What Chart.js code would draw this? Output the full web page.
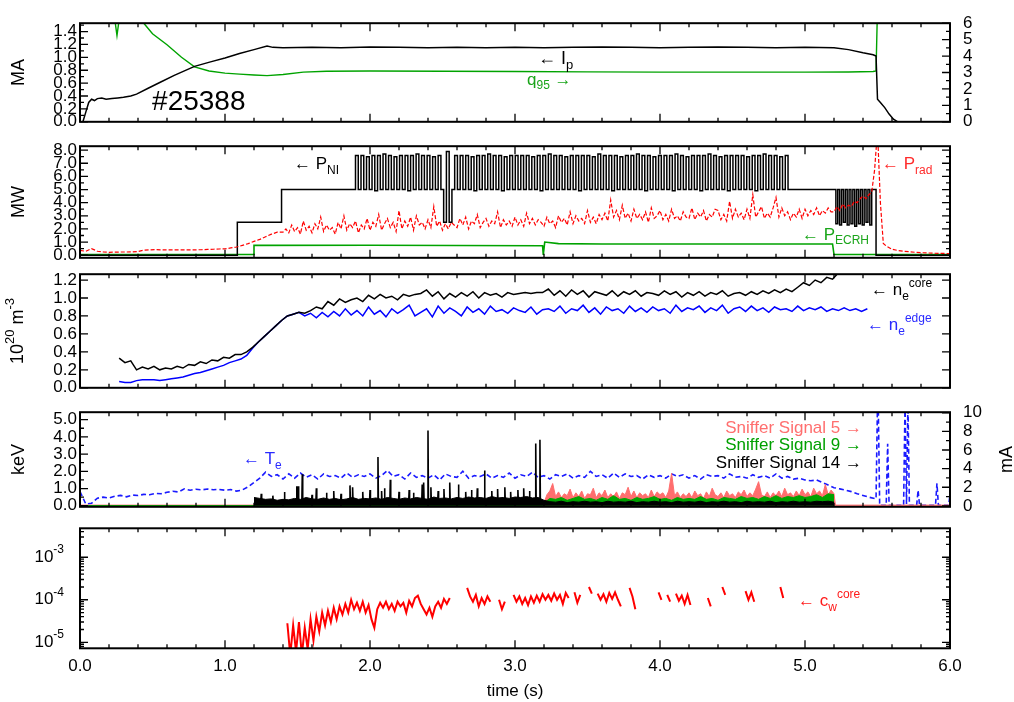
<!DOCTYPE html>
<html>
<head>
<meta charset="utf-8">
<title>#25388</title>
<script src="https://cdn.jsdelivr.net/npm/chart.js@4.4.0/dist/chart.umd.min.js"></script>
<style>
  body { margin: 0; background: #fff; }
  #wrap { position: relative; width: 1014px; height: 702px; }
  #wrap canvas { position: absolute; left: 0; }
</style>
</head>
<body>
<div id="wrap">
  <canvas id="pIp" width="1014" height="145" style="top:0px"></canvas>
  <canvas id="pPow" width="1014" height="138" style="top:133px"></canvas>
  <canvas id="pNe" width="1014" height="140" style="top:261px"></canvas>
  <canvas id="pTe" width="1014" height="141" style="top:389px"></canvas>
  <canvas id="pW" width="1014" height="184" style="top:518px"></canvas>
</div>
<script>
// ---- data (time in s) ----
const timeTicks = [0, 1, 2, 3, 4, 5, 6];

// panel 1: plasma current (MA) and q95
const ipTicks = [0, 0.2, 0.4, 0.6, 0.8, 1.0, 1.2, 1.4];
const q95Ticks = [0, 1, 2, 3, 4, 5, 6];
const ipT = [0.02,0.04,0.06,0.08,0.10,0.12,0.15,0.18,0.22,0.26,0.30,0.35,0.39,0.47,0.55,0.65,0.79,0.90,1.00,1.10,
  1.20,1.29,1.33,1.40,1.6,1.8,2.0,2.2,2.4,2.6,2.8,3.0,3.2,3.4,3.6,3.8,4.0,4.2,4.4,4.6,
  4.8,5.0,5.2,5.3,5.4,5.47,5.49,5.50,5.52,5.55,5.58,5.61,5.64];
const ipV = [0,0.15,0.30,0.35,0.33,0.36,0.37,0.35,0.36,0.37,0.38,0.40,0.43,0.52,0.61,0.72,0.86,0.93,0.99,1.06,
  1.12,1.175,1.155,1.15,1.155,1.15,1.16,1.155,1.15,1.155,1.15,1.155,1.15,1.155,1.16,1.155,1.15,1.155,1.16,1.155,
  1.15,1.155,1.15,1.12,1.07,1.04,1.02,0.35,0.30,0.22,0.12,0.04,0.0];
const q95T = [0.235,0.245,0.255,0.265,0.275,0.44,0.50,0.60,0.70,0.79,0.89,1.00,1.10,1.20,1.29,1.40,1.54,1.70,2.0,2.5,
  3.0,3.5,4.0,4.5,5.0,5.3,5.47,5.49,5.50];
const q95V = [7.0,5.9,5.25,5.9,7.0,6.0,5.36,4.69,3.93,3.34,3.09,2.96,2.90,2.85,2.81,2.88,3.02,3.08,3.09,3.08,
  3.06,3.04,3.02,3.02,3.02,3.03,3.06,3.1,7.0];

// panel 2: heating and radiated power (MW)
const powTicks = [0, 1, 2, 3, 4, 5, 6, 7, 8];
const pniStepT = [0, 1.085, 1.39];
const pniStepV = [0, 2.5, 5.0];
const pniModT0 = 1.90, pniModDt = 0.019;
const pniModV = [
  7.6,5.0,7.6,5.0,7.5,5.0,7.6,4.9,7.6,5.0,7.7,5.0,7.6,5.0,7.5,5.0,7.6,5.0,7.6,4.9,
  7.6,5.0,7.7,5.0,7.6,5.0,7.6,5.0,7.5,5.0,7.6,5.0,2.5,7.9,2.5,5.0,7.6,5.0,7.6,5.0,
  7.6,5.0,7.5,4.9,7.6,5.0,7.6,5.0,7.7,5.0,7.6,5.0,7.6,4.9,7.5,5.0,7.6,5.0,7.6,5.0,
  7.6,5.0,7.6,5.0,7.5,5.0,7.6,4.9,7.6,5.0,7.7,5.0,7.6,5.0,7.6,5.0,7.5,5.0,7.6,5.0,
  7.6,4.9,7.6,5.0,7.6,5.0,7.5,5.0,7.7,5.0,7.6,5.0,7.6,4.9,7.6,5.0,7.5,5.0,7.6,5.0,
  7.6,5.0,7.7,5.0,7.6,4.9,7.6,5.0,7.5,5.0,7.6,5.0,7.6,5.0,7.6,4.9,7.7,5.0,7.6,5.0,
  7.5,5.0,7.6,5.0,7.6,4.9,7.6,5.0,7.7,5.0,7.6,5.0,7.5,5.0,7.6,4.9,7.6,5.0,7.6,5.0,
  7.6,5.0,7.5,5.0,7.6,4.9,7.6,5.0,7.7,5.0,7.6,5.0,7.6,5.0,7.5,5.0,7.6,5.0];
const pniFlatT = [4.89];
const pniFlatV = [5.0];
const pniLateT0 = 5.20, pniLateDt = 0.013;
const pniLateV = [5.0,2.4,5.0,2.3,5.0,2.5,5.0,2.3,5.0,2.4,5.0,2.2,5.0,2.4,5.0,2.3,5.0,2.5,5.0,2.3];
const pniOffT = [5.46, 5.49, 6.0];
const pniOffV = [5.0, 0, 0];
const pradEarlyT0 = 0, pradEarlyDt = 0.04;
const pradEarlyV = [
  0.36,0.30,0.50,0.30,0.25,0.22,0.23,0.24,0.24,0.25,0.28,0.38,0.40,0.42,0.41,0.40,0.40,0.41,0.40,0.40,0.41,0.42,0.44,0.45,0.47,
  0.48,0.55,0.62,0.75,0.88,1.05,1.20,1.40,1.60,1.75];
const pradMidT0 = 1.40, pradMidDt = 0.02;
const pradMidV = [
  1.75,2.0,1.7,2.3,1.8,2.1,1.6,2.6,1.9,2.2,
  1.7,2.4,2.0,2.9,1.8,2.3,1.9,2.1,1.6,2.5,
  2.0,3.0,1.9,2.4,2.1,2.6,1.7,2.3,2.0,2.8,
  1.9,2.5,2.2,3.1,1.9,2.4,2.8,2.1,2.5,1.8,
  3.4,2.0,2.6,2.2,2.9,1.9,3.0,2.3,2.5,2.0,
  2.7,2.1,3.7,2.2,2.6,1.9,2.4,2.0,2.5,2.3,
  2.1,2.8,2.3,2.9,2.0,2.6,2.4,3.1,2.1,2.5,
  2.8,2.2,2.6,2.4,3.3,2.1,2.7,2.3,2.6,2.2,
  2.9,2.3,2.7,2.2,3.2,2.4,2.8,2.3,2.7,2.5,
  2.2,2.9,2.4,2.6,2.1,3.0,2.5,2.8,2.3,3.3,
  2.4,3.0,2.6,2.8,2.4,3.4,2.5,2.9,2.4,3.1,
  2.7,3.2,2.6,4.2,2.9,3.4,2.7,3.8,2.8,3.2,
  2.6,3.5,2.8,3.1,2.7,3.3,2.5,3.6,2.8,3.0,
  3.4,2.7,3.1,2.6,3.5,2.8,3.0,2.6,3.3,2.9,
  2.8,3.6,2.7,3.2,2.9,3.4,2.6,3.1,2.9,3.5,
  3.4,2.7,3.1,2.6,4.1,2.8,3.5,2.9,3.2,2.7,
  3.5,2.8,4.6,2.9,3.3,3.7,2.8,3.2,2.9,3.6,
  4.4,2.9,3.6,3.0,3.3,2.7,3.2,2.9,3.5,2.8,
  3.5,3.0,3.4,3.1,3.6,3.0,3.4,3.2,3.6,3.3,
  3.3,3.7,3.4,3.9,3.6,3.8,3.7,4.1,4.0,4.3,
  4.5,4.3,4.6,4.8];
const pradLateT = [5.48,5.50,5.52,5.54,5.56,5.60,5.64,5.68,5.72,5.76,5.80,5.84,5.88,5.92,5.96,6.0];
const pradLateV = [6.5,9.5,4.0,0.9,0.7,0.45,0.36,0.30,0.26,0.22,0.19,0.17,0.15,0.14,0.13,0.12];
const ecrhT = [0, 1.195, 1.20, 2.0, 3.19, 3.195, 3.205, 3.3, 3.6, 5.19, 5.20, 6.0];
const ecrhV = [0.05, 0.05, 0.75, 0.76, 0.72, 0.02, 1.0, 0.88, 0.85, 0.85, 0.05, 0.05];

// panel 3: electron density (1e20 m^-3)
const neTicks = [0, 0.2, 0.4, 0.6, 0.8, 1.0, 1.2];
const neT0 = 0.27, neDt = 0.04;
const neCoreV = [
  0.33,0.28,0.30,0.20,0.23,0.21,0.24,0.20,0.22,0.21,0.24,0.22,0.26,0.25,0.29,0.27,0.31,0.30,0.34,0.33,0.37,0.37,0.40,0.45,0.51,
  0.57,0.63,0.69,0.75,0.80,0.82,0.84,0.83,0.86,0.90,0.88,0.96,0.92,0.99,0.95,0.98,1.00,0.96,1.03,0.99,1.04,1.00,1.02,0.98,1.04,
  1.02,1.04,1.05,1.09,1.02,1.07,0.99,1.05,1.01,1.06,1.02,1.07,1.00,1.06,1.03,1.05,1.01,1.06,1.04,1.05,1.06,1.05,1.06,1.06,1.10,
  1.03,1.08,1.02,1.09,1.04,1.08,1.01,1.07,1.05,1.03,1.08,1.02,1.07,1.04,1.08,1.02,1.06,1.05,1.03,1.08,1.04,1.07,1.01,1.06,1.03,
  1.07,1.02,1.06,1.04,1.08,1.02,1.05,1.06,1.03,1.07,1.04,1.08,1.05,1.09,1.06,1.10,1.07,1.12,1.17,1.14,1.20,1.17,1.23,1.21,1.28];
const neEdgeV = [
  0.07,0.06,0.06,0.08,0.09,0.09,0.09,0.08,0.09,0.10,0.11,0.12,0.14,0.16,0.17,0.19,0.21,0.23,0.25,0.28,0.30,0.32,0.36,0.44,0.51,
  0.57,0.63,0.69,0.75,0.80,0.82,0.84,0.80,0.83,0.78,0.84,0.79,0.85,0.80,0.88,0.81,0.86,0.80,0.90,0.82,0.86,0.79,0.88,0.83,0.87,
  0.92,0.80,0.84,0.88,0.79,0.91,0.83,0.89,0.85,0.80,0.90,0.84,0.88,0.82,0.91,0.85,0.87,0.83,0.89,0.86,0.84,0.90,0.82,0.87,0.88,
  0.85,0.91,0.83,0.88,0.86,0.92,0.84,0.89,0.82,0.90,0.86,0.88,0.83,0.91,0.85,0.89,0.84,0.90,0.86,0.88,0.83,0.92,0.85,0.89,0.87,
  0.91,0.84,0.89,0.86,0.92,0.83,0.88,0.90,0.85,0.91,0.86,0.89,0.84,0.90,0.87,0.88,0.85,0.91,0.86,0.89,0.87,0.90,0.85,0.88,0.86,
  0.89,0.86,0.88,0.85,0.88];

// panel 4: Te (keV) and sniffer probe signals (mA)
const teTicks = [0, 1, 2, 3, 4, 5];
const mATicks = [0, 2, 4, 6, 8, 10];
const teT0 = 0, teDt = 0.04;
const teV = [
  0.83,0.10,0.15,0.44,0.50,0.45,0.55,0.60,0.52,0.62,0.60,0.66,0.64,0.72,0.70,0.78,0.84,0.80,0.98,0.90,0.96,0.92,0.97,0.93,0.95,
  0.90,0.94,0.85,0.92,1.10,1.35,1.60,1.95,1.70,1.80,1.55,1.85,1.60,1.90,1.65,1.80,1.55,1.85,1.70,1.75,1.60,1.90,1.65,1.80,1.70,
  1.85,1.60,1.75,2.05,1.70,1.80,1.55,1.90,1.65,1.75,1.60,1.80,1.50,1.85,1.70,1.65,2.00,1.60,1.75,1.70,1.85,1.60,1.75,1.65,1.90,
  1.60,1.80,1.70,1.95,1.65,1.75,1.55,1.80,1.70,1.85,1.60,1.75,1.65,2.00,1.70,1.80,1.60,1.90,1.65,1.85,1.70,1.75,1.55,1.80,1.65,
  1.75,1.60,1.85,1.70,1.80,1.60,1.75,1.55,1.80,1.70,1.75,1.60,1.85,1.65,1.70,1.60,1.80,1.65,1.75,1.60,1.85,1.60,1.70,1.55,1.60,
  1.50,1.45,1.50,1.35,1.20,1.05,0.98,0.90,0.82,0.70,0.60,0.50,0.42];
const teTailT = [5.49,5.50,5.505,5.515,5.56,5.57,5.58,5.68,5.69,5.70,5.71,5.72,5.77,5.78,5.79,5.90,5.91,5.92,5.99,6.0];
const teTailV = [0.40,6.0,6.0,0.02,0.02,3.6,0.02,0.02,6.0,0.1,6.0,0.02,0.02,0.9,0.02,0.02,1.3,0.02,0.02,0.6];
const sn5T0 = 3.20, sn5Dt = 0.02;
const sn5V = [
  0.3,1.2,1.6,2.4,1.0,1.5,0.9,1.3,1.1,1.8,
  0.9,1.4,1.0,1.6,0.8,1.3,1.2,1.9,0.9,1.4,
  1.1,1.7,0.9,1.3,1.0,1.5,0.8,1.4,1.2,2.0,
  1.0,1.6,0.9,1.4,1.1,1.3,0.9,1.7,1.0,1.5,
  1.2,1.4,0.9,1.6,3.5,1.1,1.5,0.9,1.3,1.0,
  1.4,0.9,1.6,1.1,1.3,0.8,1.5,1.0,1.9,1.2,
  1.0,1.4,0.9,1.6,1.1,1.3,0.9,1.5,1.2,1.7,
  1.0,1.4,1.1,1.8,2.6,1.2,1.0,1.5,0.9,1.4,
  1.1,1.6,1.0,1.9,1.2,1.4,1.0,1.6,1.1,1.8,
  1.2,1.5,1.0,1.9,1.3,1.6,1.1,2.3,1.2,1.7,
  1.3];
const sn5PreT = [0, 3.19], sn5PreV = [0.08, 0.08];
const sn5PostT = [5.21, 6.0], sn5PostV = [0.08, 0.08];
const sn9T0 = 3.20, sn9Dt = 0.04;
const sn9V = [0.3,0.8,0.7,0.9,0.6,0.8,1.0,0.7,0.8,0.6,0.9,0.7,1.1,0.7,0.8,0.6,0.9,0.7,0.8,1.0,0.7,0.8,0.6,0.9,0.7,
  0.8,0.7,1.0,0.7,0.8,0.6,0.9,0.8,0.7,1.0,0.8,0.9,0.7,1.0,0.8,1.1,0.8,1.0,0.9,1.1,0.9,1.0,1.2,0.9,1.3,1.2];
const sn9PreT = [0, 3.19], sn9PreV = [0.03, 0.03];
const sn14T0 = 1.20, sn14Dt = 0.04;
const sn14V = [
  0.9,0.8,0.7,0.75,0.6,0.7,0.65,0.8,0.7,0.9,0.75,0.7,0.85,0.7,0.8,0.65,0.75,0.9,0.7,0.8,0.75,0.85,0.7,0.9,0.8,
  0.7,0.85,0.75,0.9,0.8,0.7,0.95,0.8,0.85,0.75,0.9,0.8,0.95,0.85,0.9,0.8,1.0,0.85,0.9,0.8,0.95,0.9,1.0,0.85,0.9,
  0.6,0.45,0.4,0.5,0.35,0.45,0.4,0.5,0.4,0.45,0.35,0.5,0.4,0.45,0.4,0.5,0.35,0.45,0.4,0.5,0.4,0.45,0.35,0.5,0.4,
  0.45,0.4,0.5,0.35,0.45,0.4,0.5,0.4,0.45,0.35,0.5,0.4,0.45,0.4,0.5,0.35,0.45,0.4,0.5,0.4,0.45,0.4,0.5,0.45,0.5,0.4];
const sn14SpikeT = [1.25,1.33,1.41,1.495,1.505,1.533,1.60,1.63,1.70,1.75,1.80,1.862,1.88,1.95,2.00,2.055,2.08,2.10,2.14,2.20,
  2.27,2.30,2.36,2.37,2.40,2.42,2.47,2.51,2.55,2.61,2.66,2.70,2.74,2.79,2.84,2.88,2.93,2.97,3.02,3.06,3.10,3.143,3.172];
const sn14SpikeV = [1.3,1.1,1.5,2.1,2.1,3.4,1.2,1.9,1.4,1.6,1.3,2.2,2.0,1.5,1.7,5.25,1.6,1.9,2.8,1.5,
  1.7,1.4,2.3,2.5,8.1,2.0,1.6,1.8,2.5,2.3,1.5,1.7,1.9,3.8,1.6,1.8,2.0,1.5,1.7,1.9,1.6,6.7,7.1];

// panel 5: core tungsten concentration
const cwTicks = [1e-5, 1e-4, 1e-3];
const cwT0 = 1.43, cwDt = 0.02;
const cwV = [
  2.8e-5,5e-6,2.5e-5,6e-6,3e-5,5e-6,2.2e-5,7e-6,3.5e-5,1.1e-5,
  4e-5,1.8e-5,5e-5,2.5e-5,5.5e-5,3e-5,6.5e-5,3.5e-5,7e-5,4.5e-5,
  8e-5,5e-5,1e-4,6e-5,8.5e-5,5.5e-5,9e-5,5e-5,7.5e-5,3.5e-5,
  2.2e-5,6e-5,8.5e-5,6.5e-5,9e-5,6e-5,8e-5,5.5e-5,9e-5,7e-5,
  8.5e-5,5e-5,9.5e-5,7e-5,1.1e-4,1.25e-4,8e-5,6e-5,4.5e-5,6.5e-5,
  4e-5,7e-5,9e-5,6.5e-5,1.05e-4,8e-5,1.1e-4,null,null,null,
  null,null,1.9e-4,1.2e-4,9e-5,1.3e-4,7e-5,1.1e-4,8e-5,1.2e-4,
  9e-5,null,null,1e-4,6e-5,9e-5,null,null,1.3e-4,9e-5,
  1.2e-4,8e-5,1.1e-4,7.5e-5,1.2e-4,8.5e-5,1.25e-4,9e-5,1.35e-4,1e-4,
  1.3e-4,9.5e-5,1.4e-4,1e-4,1.3e-4,8e-5,1.45e-4,1.1e-4,null,1.5e-4,
  8.5e-5,1.3e-4,null,null,2e-4,1.4e-4,null,1.4e-4,1e-4,1.35e-4,
  9e-5,1.45e-4,1.05e-4,1.5e-4,1e-4,7e-5,null,null,1.9e-4,1.2e-4,
  6e-5,null,null,null,null,null,null,null,1.5e-4,1e-4,
  null,1.3e-4,9e-5,null,1.4e-4,9.5e-5,1.25e-4,8e-5,1.3e-4,7.5e-5,
  null,null,null,null,null,1.1e-4,7e-5,null,null,null,
  2e-4,1.3e-4,null,null,null,null,null,null,1.6e-4,1e-4,
  1.5e-4,9e-5,null,null,null,null,null,null,null,null,
  2e-4,1.1e-4];

// ---- styling ----
const FONT = '"Liberation Sans", Arial, Helvetica, sans-serif';
const GREEN = '#00a300', RED = '#ff0000', BLUE = '#0000ff', PINK = '#ff6e6e';
const TICK_FONT = 17;

Chart.defaults.font.family = FONT;
Chart.defaults.color = '#000';
Chart.defaults.animation = false;
Chart.defaults.events = [];
Chart.defaults.plugins.legend.display = false;
Chart.defaults.plugins.tooltip.enabled = false;
Chart.defaults.elements.point.radius = 0;
Chart.defaults.elements.line.tension = 0;

function series(t0, dt, vals) { return vals.map((v, i) => ({ x: t0 + i * dt, y: v })); }
function pairs(ts, vs) { return ts.map((t, i) => ({ x: t, y: vs[i] })); }
function spikes(ts, vs, base) {
  const out = [];
  ts.forEach((t, i) => {
    out.push({ x: t - 0.003, y: base }, { x: t, y: vs[i] }, { x: t + 0.003, y: base }, { x: t + 0.003, y: null });
  });
  return out;
}

function xScale(show) {
  return {
    type: 'linear', min: 0, max: 6, display: show, bounds: 'data',
    afterBuildTicks: s => { s.ticks = timeTicks.map(v => ({ value: v })); },
    afterFit: s => { if (show) s.height = 50; },
    grid: { display: false, drawTicks: false },
    border: { display: false },
    ticks: { autoSkip: false, maxRotation: 0, padding: 8, font: { size: TICK_FONT }, callback: v => v.toFixed(1) }
  };
}

function yScale(position, min, max, tickList, digits, type) {
  return {
    type: type || 'linear', position, min, max, bounds: 'data',
    afterBuildTicks: s => { s.ticks = tickList.map(v => ({ value: v })); },
    afterFit: s => { s.width = position === 'left' ? 80 : 64; },
    grid: { display: false, drawTicks: false },
    border: { display: false },
    ticks: {
      display: digits !== null, autoSkip: false, padding: position === 'left' ? 3 : 13,
      font: { size: TICK_FONT }, callback: v => v.toFixed(digits || 0)
    }
  };
}

// inward tick marks and the panel frame
function tickMarks(scale, minor, majors) {
  const major = majors || scale.ticks.map(t => t.value);
  const marks = major.map(v => [v, 8]);
  const isMajor = v => major.some(m => Math.abs(m - v) <= 1e-6 * Math.abs(v) + 1e-9);
  if (scale.type === 'logarithmic') {
    for (let e = Math.floor(Math.log10(scale.min)); e <= Math.ceil(Math.log10(scale.max)); e++) {
      for (let m = 2; m <= 9; m++) {
        const v = m * Math.pow(10, e);
        if (v >= scale.min && v <= scale.max) marks.push([v, 4]);
      }
    }
  } else if (minor) {
    for (let k = Math.ceil(scale.min / minor - 1e-9); k * minor <= scale.max + 1e-9; k++) {
      if (!isMajor(k * minor)) marks.push([k * minor, 4]);
    }
  }
  return marks.filter(([v]) => v >= scale.min && v <= scale.max);
}

const panelCfg = {};

const inwardTicks = {
  id: 'inwardTicks',
  afterDatasetsDraw(chart) {
    const cfg = panelCfg[chart.canvas.id];
    const { ctx, chartArea: a, scales } = chart;
    ctx.save();
    ctx.strokeStyle = '#000';
    ctx.lineWidth = 1.3;
    ctx.beginPath();
    for (const [v, len] of tickMarks(scales.x, 0.2, timeTicks)) {
      const px = scales.x.getPixelForValue(v);
      ctx.moveTo(px, a.bottom); ctx.lineTo(px, a.bottom - len);
      ctx.moveTo(px, a.top); ctx.lineTo(px, a.top + len);
    }
    for (const spec of cfg.yTicks) {
      const s = scales[spec.id];
      for (const [v, len] of tickMarks(s, spec.minor)) {
        const py = s.getPixelForValue(v);
        if (spec.sides.includes('left')) { ctx.moveTo(a.left, py); ctx.lineTo(a.left + len, py); }
        if (spec.sides.includes('right')) { ctx.moveTo(a.right, py); ctx.lineTo(a.right - len, py); }
      }
    }
    ctx.stroke();
    ctx.lineWidth = 2;
    ctx.strokeRect(a.left, a.top, a.right - a.left, a.bottom - a.top);
    ctx.restore();
  }
};

// text with sub/superscripts
function drawRich(ctx, parts, x, y, size, color, align, rotate) {
  ctx.save();
  ctx.translate(x, y);
  if (rotate) ctx.rotate(-Math.PI / 2);
  ctx.fillStyle = color;
  ctx.textBaseline = 'middle';
  ctx.textAlign = 'left';
  const small = Math.round(size * 0.7);
  const widths = parts.map(([t, m]) => {
    ctx.font = (m ? small : size) + 'px ' + FONT;
    return ctx.measureText(t).width;
  });
  const total = widths.reduce((s, w) => s + w, 0);
  let cx = align === 'right' ? -total : align === 'center' ? -total / 2 : 0;
  parts.forEach(([t, m], i) => {
    ctx.font = (m ? small : size) + 'px ' + FONT;
    const dy = m === 'sub' ? size * 0.35 : m === 'sup' ? -size * 0.42 : 0;
    ctx.fillText(t, cx, dy);
    cx += widths[i];
  });
  ctx.restore();
}

const richText = {
  id: 'richText',
  afterDraw(chart) {
    const cfg = panelCfg[chart.canvas.id];
    const { ctx, chartArea: a, scales } = chart;
    (cfg.titles || []).forEach(tt => drawRich(ctx, tt.parts, tt.px,
      tt.py !== undefined ? tt.py : (a.top + a.bottom) / 2, tt.size || 18, tt.color || '#000', 'center', tt.rotate !== false));
    (cfg.labels || []).forEach(lb => drawRich(ctx, lb.parts, scales.x.getPixelForValue(lb.t),
      scales[lb.axis || 'y'].getPixelForValue(lb.v), lb.size || 17, lb.color, lb.align || 'left', false));
    if (cfg.logLabels) {
      scales.y.ticks.forEach(tk => drawRich(ctx, [['10', ''], [String(Math.round(Math.log10(tk.value))), 'sup']],
        a.left - 16, scales.y.getPixelForValue(tk.value), TICK_FONT, '#000', 'right', false));
    }
  }
};

function panel(id, datasets, scales, padding, cfg) {
  panelCfg[id] = cfg;
  return new Chart(document.getElementById(id), {
    type: 'line',
    data: { datasets },
    options: { responsive: false, layout: { padding }, scales },
    plugins: [inwardTicks, richText]
  });
}

// ---- panel 1 ----
panel('pIp', [
  { data: pairs(ipT, ipV), borderColor: '#000', borderWidth: 1.5, yAxisID: 'y', order: 0 },
  { data: pairs(q95T, q95V), borderColor: GREEN, borderWidth: 1.4, yAxisID: 'y2', order: 1 }
], {
  x: xScale(false),
  y: yScale('left', 0, 1.53, ipTicks, 1),
  y2: yScale('right', 0, 6, q95Ticks, 0)
}, { top: 12.7, bottom: 11.7, left: 0, right: 0 }, {
  yTicks: [{ id: 'y', minor: 0.1, sides: ['left'] }, { id: 'y2', minor: 0.5, sides: ['right'] }],
  titles: [{ px: 19, parts: [['MA', '']] }],
  labels: [
    { t: 3.159, v: 0.968, parts: [['\u2190 I', ''], ['p', 'sub']], size: 18, color: '#000' },
    { t: 3.083, v: 0.651, parts: [['q', ''], ['95', 'sub'], [' \u2192', '']], color: '#1aa51a' },
    { t: 0.497, v: 0.296, parts: [['#25388', '']], size: 28, color: '#000' }
  ]
});

// ---- panel 2 ----
const pniData = pairs(pniStepT, pniStepV)
  .concat(series(pniModT0, pniModDt, pniModV))
  .concat(pairs(pniFlatT, pniFlatV))
  .concat(series(pniLateT0, pniLateDt, pniLateV))
  .concat(pairs(pniOffT, pniOffV));
const pradData = series(pradEarlyT0, pradEarlyDt, pradEarlyV)
  .concat(series(pradMidT0, pradMidDt, pradMidV))
  .concat(pairs(pradLateT, pradLateV));
panel('pPow', [
  { data: pradData, borderColor: RED, borderWidth: 1.2, borderDash: [4, 2], order: 0 },
  { data: pniData, borderColor: '#000', borderWidth: 1.5, stepped: 'before', order: 1 },
  { data: pairs(ecrhT, ecrhV), borderColor: GREEN, borderWidth: 1.6, order: 2 }
], {
  x: xScale(false),
  y: yScale('left', -0.2, 8.3, powTicks, 1)
}, { top: 9.7, bottom: 10, left: 0, right: 64 }, {
  yTicks: [{ id: 'y', minor: 0.5, sides: ['left', 'right'] }],
  titles: [{ px: 19, parts: [['MW', '']] }],
  labels: [
    { t: 1.476, v: 6.91, parts: [['\u2190 P', ''], ['NI', 'sub']], color: '#000' },
    { t: 5.531, v: 6.91, parts: [['\u2190 P', ''], ['rad', 'sub']], color: '#ff2b2b' },
    { t: 4.979, v: 1.52, parts: [['\u2190 P', ''], ['ECRH', 'sub']], color: '#1aa51a' }
  ]
});

// ---- panel 3 ----
panel('pNe', [
  { data: series(neT0, neDt, neCoreV), borderColor: '#000', borderWidth: 1.5, order: 0 },
  { data: series(neT0, neDt, neEdgeV), borderColor: BLUE, borderWidth: 1.5, order: 1 }
], {
  x: xScale(false),
  y: yScale('left', 0, 1.265, neTicks, 1)
}, { top: 9.7, bottom: 10, left: 0, right: 64 }, {
  yTicks: [{ id: 'y', minor: null, sides: ['left', 'right'] }],
  titles: [{ px: 18, parts: [['10', ''], ['20', 'sup'], [' m', ''], ['-3', 'sup']] }],
  labels: [
    { t: 5.455, v: 1.083, parts: [['\u2190 n', ''], ['e', 'sub'], ['core', 'sup']], color: '#000' },
    { t: 5.428, v: 0.694, parts: [['\u2190 n', ''], ['e', 'sub'], ['edge', 'sup']], color: '#2a2aff' }
  ]
});

// ---- panel 4 ----
panel('pTe', [
  { data: spikes(sn14SpikeT, sn14SpikeV, 0.5), borderColor: '#000', borderWidth: 1.6, yAxisID: 'y2', order: 0 },
  { data: series(sn14T0, sn14Dt, sn14V), borderColor: '#000', backgroundColor: '#000', borderWidth: 1,
    fill: { value: 0 }, yAxisID: 'y2', order: 1 },
  { data: pairs(sn9PreT, sn9PreV).concat(series(sn9T0, sn9Dt, sn9V)), borderColor: GREEN, backgroundColor: GREEN,
    borderWidth: 1, fill: { value: 0 }, yAxisID: 'y2', order: 2 },
  { data: pairs(sn5PreT, sn5PreV).concat(series(sn5T0, sn5Dt, sn5V), pairs(sn5PostT, sn5PostV)), borderColor: PINK,
    backgroundColor: PINK, borderWidth: 1, fill: { value: 0 }, yAxisID: 'y2', order: 3 },
  { data: series(teT0, teDt, teV).concat(pairs(teTailT, teTailV)), borderColor: '#1a1aff', borderWidth: 1.6,
    borderDash: [5, 3], yAxisID: 'y', order: 4 }
], {
  x: xScale(false),
  y: yScale('left', -0.06, 5.43, teTicks, 1),
  y2: yScale('right', -0.1, 10.06, mATicks, 0)
}, { top: 10.3, bottom: 10.5, left: 0, right: 0 }, {
  yTicks: [{ id: 'y', minor: 0.5, sides: ['left'] }, { id: 'y2', minor: 1, sides: ['right'] }],
  titles: [{ px: 19, parts: [['keV', '']] }, { px: 1007, parts: [['mA', '']] }],
  labels: [
    { t: 5.393, v: 4.49, parts: [['Sniffer Signal 5 \u2192', '']], color: PINK, align: 'right' },
    { t: 5.393, v: 3.48, parts: [['Sniffer Signal 9 \u2192', '']], color: '#00a000', align: 'right' },
    { t: 5.393, v: 2.48, parts: [['Sniffer Signal 14 \u2192', '']], color: '#000', align: 'right' },
    { t: 1.124, v: 2.67, parts: [['\u2190 T', ''], ['e', 'sub']], color: '#2a2aff' }
  ]
});

// ---- panel 5 ----
panel('pW', [
  { data: series(cwT0, cwDt, cwV), borderColor: RED, borderWidth: 2, order: 0 }
], {
  x: xScale(true),
  y: yScale('left', 7.22e-6, 4.8e-3, cwTicks, null, 'logarithmic')
}, { top: 10.3, bottom: 3.7, left: 0, right: 64 }, {
  yTicks: [{ id: 'y', minor: null, sides: ['left', 'right'] }],
  logLabels: true,
  titles: [{ px: 515, py: 173, rotate: false, size: 17, parts: [['time (s)', '']] }],
  labels: [
    { t: 4.952, v: 8.97e-5, parts: [['\u2190 c', ''], ['w', 'sub'], ['core', 'sup']], color: '#ff1a1a' }
  ]
});
</script>
</body>
</html>
